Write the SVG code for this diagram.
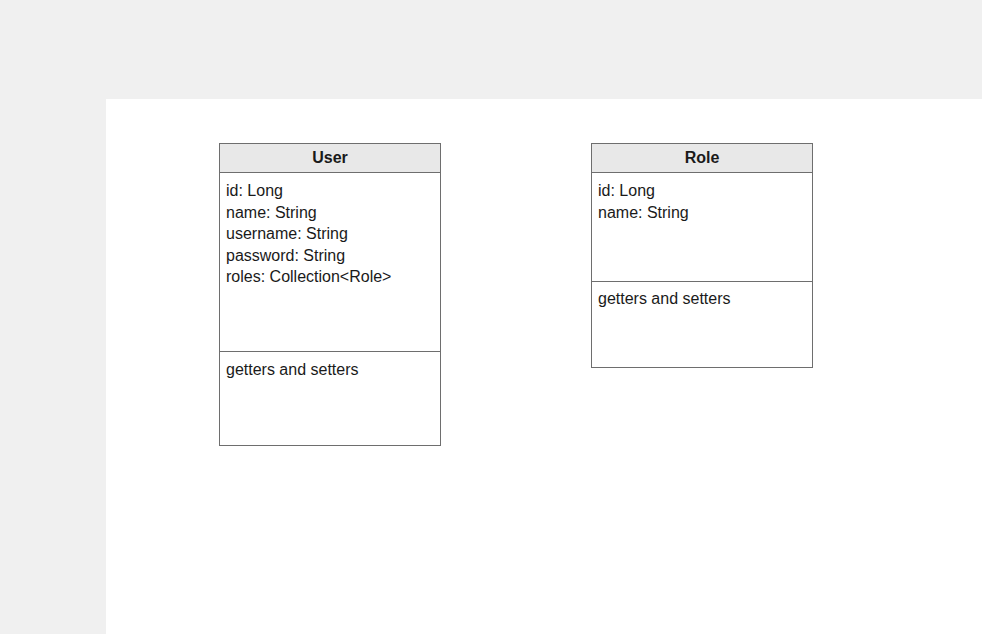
<svg xmlns="http://www.w3.org/2000/svg" width="982" height="634" viewBox="0 0 982 634">
<style>
.bg{fill:#f0f0f0}
.page{fill:#ffffff}
.box{fill:#ffffff;stroke:#6e6e6e;stroke-width:1}
.hdr{fill:#e8e8e8;stroke:#6e6e6e;stroke-width:1}
.div{stroke:#6e6e6e;stroke-width:1}
.t{font-family:"Liberation Sans",Arial,sans-serif;font-size:16px;fill:#1a1a1a}
.h{font-family:"Liberation Sans",Arial,sans-serif;font-size:16px;font-weight:bold;fill:#1a1a1a;text-anchor:middle}
</style>
<rect class="bg" x="0" y="0" width="982" height="634"/>
<rect class="page" x="106" y="99" width="876" height="535"/>
<g id="User">
<rect class="box" x="219.5" y="143.5" width="221" height="302"/>
<rect class="hdr" x="219.5" y="143.5" width="221" height="29"/>
<line class="div" x1="219.5" y1="351.5" x2="440.5" y2="351.5"/>
<text class="h" x="330" y="163">User</text>
<text class="t" x="226" y="196">id: Long</text>
<text class="t" x="226" y="217.5">name: String</text>
<text class="t" x="226" y="239">username: String</text>
<text class="t" x="226" y="260.5">password: String</text>
<text class="t" x="226" y="282">roles: Collection&lt;Role&gt;</text>
<text class="t" x="226" y="375">getters and setters</text>
</g>
<g id="Role">
<rect class="box" x="591.5" y="143.5" width="221" height="224"/>
<rect class="hdr" x="591.5" y="143.5" width="221" height="29"/>
<line class="div" x1="591.5" y1="281.5" x2="812.5" y2="281.5"/>
<text class="h" x="702" y="163">Role</text>
<text class="t" x="598" y="196">id: Long</text>
<text class="t" x="598" y="217.5">name: String</text>
<text class="t" x="598" y="304">getters and setters</text>
</g>
<g id="connectors"></g>
</svg>
